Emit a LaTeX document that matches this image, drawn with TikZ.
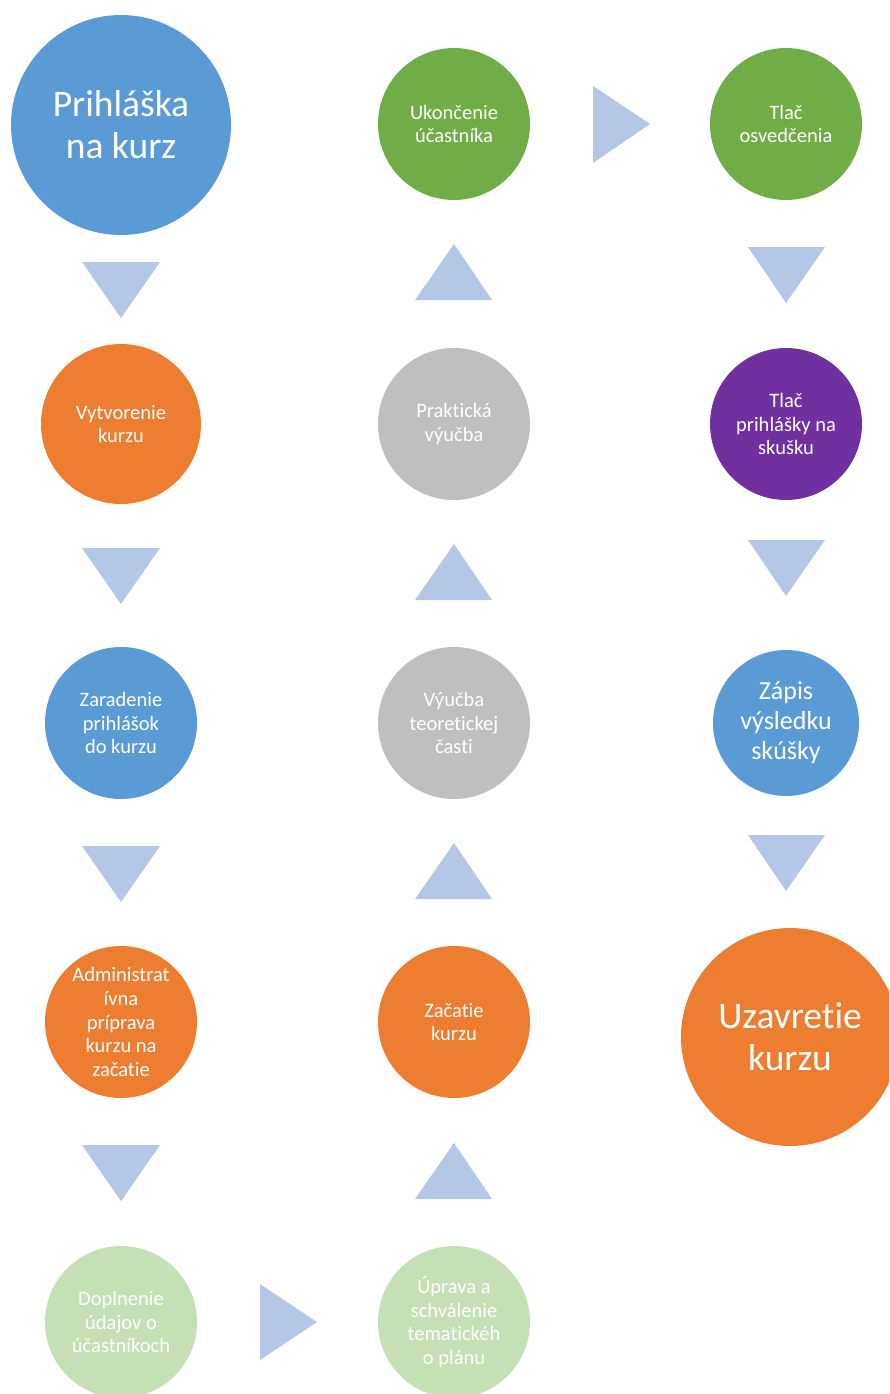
\documentclass[tikz,border=0pt]{standalone}
\usepackage{fontspec}
\setmainfont{Carlito}[Ligatures={NoCommon,NoContextual}]
\definecolor{cblue}{HTML}{5B9BD5}
\definecolor{corange}{HTML}{ED7D31}
\definecolor{cgreen}{HTML}{70AD47}
\definecolor{cgrey}{HTML}{BFBFBF}
\definecolor{cpurple}{HTML}{7030A0}
\definecolor{clgreen}{HTML}{C5E0B4}
\definecolor{ctri}{HTML}{B4C7E7}
\tikzset{
  circ/.style={circle, inner sep=0pt, minimum size=152pt, text=white, align=center,
    font=\fontsize{20.5}{23.8}\selectfont},
  bigcirc/.style={circ, minimum size=220pt, font=\fontsize{37.5}{42}\selectfont},
  tri/.style={fill=ctri, draw=none},
}
\begin{document}
\begin{tikzpicture}[x=1pt,y=-1pt]
\useasboundingbox (0,0) rectangle (889,1394);
\fill[white] (0,0) rectangle (889,1394);
\clip (0,0) rectangle (889,1394);
% column 1
\node[bigcirc, fill=cblue] (p1) at (121,125) {Prihláška\\na kurz};
\node[circ, fill=corange, minimum size=160pt] (p2) at (121,424) {Vytvorenie\\kurzu};
\node[circ, fill=cblue] (p3) at (121,723) {Zaradenie\\prihlášok\\do kurzu};
\node[circ, fill=corange] (p4) at (121,1022) {Administrat\\ívna\\príprava\\kurzu na\\začatie};
\node[circ, fill=clgreen] (p5) at (121,1322) {Doplnenie\\údajov o\\účastníkoch};
% column 2
\node[circ, fill=clgreen] (p6) at (454,1322) {Úprava a\\schválenie\\tematickéh\\o plánu};
\node[circ, fill=corange] (p7) at (454,1022) {Začatie\\kurzu};
\node[circ, fill=cgrey] (p8) at (454,723) {Výučba\\teoretickej\\časti};
\node[circ, fill=cgrey] (p9) at (454,424) {Praktická\\výučba};
\node[circ, fill=cgreen] (p10) at (454,124) {Ukončenie\\účastníka};
% column 3
\node[circ, fill=cgreen] (p11) at (786,124) {Tlač\\osvedčenia};
\node[circ, fill=cpurple] (p12) at (786,424) {Tlač\\prihlášky na\\skušku};
\node[circ, fill=cblue, minimum size=146pt, font=\fontsize{26}{30}\selectfont] (p13) at (786,723) {Zápis\\výsledku\\skúšky};
\node[bigcirc, fill=corange, minimum size=218pt] (p14) at (790,1037) {Uzavretie\\kurzu};
% triangles: column 1 down
\foreach \t in {262,548,846,1145}
  \fill[tri] (82,\t) -- (160,\t) -- (121,\t+56) -- cycle;
% column 2 up
\foreach \t in {244,544,843,1143}
  \fill[tri] (415,\t+56) -- (492,\t+56) -- (454,\t) -- cycle;
% column 3 down
\foreach \t in {247,540,835}
  \fill[tri] (748,\t) -- (825,\t) -- (786,\t+56) -- cycle;
% right-pointing
\fill[tri] (593,86) -- (593,163) -- (650,124) -- cycle;
\fill[tri] (260,1284) -- (260,1360) -- (317,1322) -- cycle;
\end{tikzpicture}
\end{document}
